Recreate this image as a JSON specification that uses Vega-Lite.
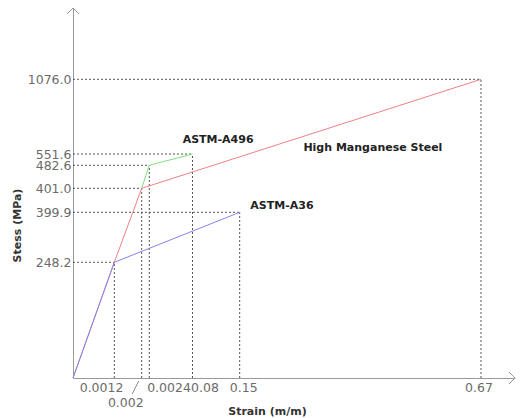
{
  "$schema": "https://vega.github.io/schema/vega-lite/v6.json",
  "autosize": "none",
  "width": 442,
  "height": 370,
  "padding": {"left": 73, "top": 8, "right": 7, "bottom": 40},
  "background": "white",
  "config": {
    "view": {"stroke": null},
    "axis": {
      "domainColor": "#999999",
      "ticks": false,
      "grid": false,
      "labelColor": "#6b6b6b",
      "labelFont": "DejaVu Sans",
      "labelFontSize": 12.5,
      "labelOverlap": false,
      "labelFlush": false,
      "labelBound": false,
      "titleFont": "DejaVu Sans",
      "titleFontSize": 11,
      "titleFontWeight": "bold",
      "titleColor": "#333333"
    }
  },
  "datasets": {
    "lines": [
      {"series": "High Manganese Steel", "x": 0, "y": 0, "order": 0},
      {"series": "High Manganese Steel", "x": 0.0012, "y": 248.2, "order": 1},
      {"series": "High Manganese Steel", "x": 0.002, "y": 401.0, "order": 2},
      {"series": "High Manganese Steel", "x": 0.67, "y": 1076.0, "order": 3},
      {"series": "ASTM-A496", "x": 0.002, "y": 401.0, "order": 0},
      {"series": "ASTM-A496", "x": 0.0024, "y": 482.6, "order": 1},
      {"series": "ASTM-A496", "x": 0.08, "y": 551.6, "order": 2},
      {"series": "ASTM-A36", "x": 0, "y": 0, "order": 0},
      {"series": "ASTM-A36", "x": 0.0012, "y": 248.2, "order": 1},
      {"series": "ASTM-A36", "x": 0.15, "y": 399.9, "order": 2}
    ],
    "guides": [
      {"x": 0.0012, "y": 248.2, "x0": 0, "y0": 0},
      {"x": 0.002, "y": 401.0, "x0": 0, "y0": 0},
      {"x": 0.0024, "y": 482.6, "x0": 0, "y0": 0},
      {"x": 0.08, "y": 551.6, "x0": 0, "y0": 0},
      {"x": 0.15, "y": 399.9, "x0": 0, "y0": 0},
      {"x": 0.67, "y": 1076.0, "x0": 0, "y0": 0}
    ],
    "ticklabels": [
      {"label": "0.0012", "x": 0.00083, "row": 1},
      {"label": "0.002", "x": 0.001536, "row": 2},
      {"label": "0.0024", "x": 0.0378, "row": 1},
      {"label": "0.08", "x": 0.0985, "row": 1},
      {"label": "0.15", "x": 0.1588, "row": 1},
      {"label": "0.67", "x": 0.6657, "row": 1}
    ],
    "notes": [
      {"label": "ASTM-A496", "x": 0.118, "y": 650},
      {"label": "High Manganese Steel", "x": 0.437, "y": 591.6},
      {"label": "ASTM-A36", "x": 0.241, "y": 400.2}
    ]
  },
  "layer": [
    {
      "data": {"name": "guides"},
      "mark": {"type": "rule", "color": "#555555", "strokeDash": [2, 2], "strokeWidth": 1},
      "encoding": {
        "x": {
          "field": "x0",
          "type": "quantitative",
          "scale": {
            "domain": [0, 0.0012, 0.002, 0.0024, 0.08, 0.15, 0.67, 0.8],
            "range": [0, 41.3, 68.7, 76.3, 119.5, 166.7, 408, 442],
            "nice": false,
            "zero": false
          },
          "axis": {
            "values": [0.0012, 0.002, 0.0024, 0.08, 0.15, 0.67],
            "labels": false,
            "title": "Strain (m/m)",
            "titleX": 194,
            "titleY": 33,
            "titleAlign": "center",
            "titleBaseline": "middle"
          }
        },
        "x2": {"field": "x"},
        "y": {
          "field": "y",
          "type": "quantitative",
          "scale": {
            "domain": [0, 248.2, 399.9, 401.0, 482.6, 551.6, 1076.0, 1300],
            "range": [370, 254.3, 204.3, 180.3, 157.3, 146, 71.3, 0],
            "nice": false,
            "zero": false
          },
          "axis": {
            "values": [248.2, 399.9, 401.0, 482.6, 551.6, 1076.0],
            "format": ".1f",
            "labelPadding": 2,
            "title": "Stess (MPa)",
            "titleX": -56,
            "titleY": 217,
            "titleAlign": "center",
            "titleBaseline": "middle"
          }
        }
      }
    },
    {
      "data": {"name": "guides"},
      "mark": {"type": "rule", "color": "#555555", "strokeDash": [2, 2], "strokeWidth": 1},
      "encoding": {
        "x": {"field": "x", "type": "quantitative"},
        "y": {"field": "y0", "type": "quantitative"},
        "y2": {"field": "y"}
      }
    },
    {
      "data": {"name": "lines"},
      "mark": {"type": "line", "strokeWidth": 1},
      "encoding": {
        "x": {"field": "x", "type": "quantitative"},
        "y": {"field": "y", "type": "quantitative"},
        "order": {"field": "order", "type": "quantitative"},
        "color": {
          "field": "series",
          "type": "nominal",
          "scale": {
            "domain": ["High Manganese Steel", "ASTM-A496", "ASTM-A36"],
            "range": ["#f07f86", "#7fe07f", "#8585ee"]
          },
          "legend": null
        }
      }
    },
    {
      "data": {"name": "notes"},
      "mark": {"type": "text", "font": "DejaVu Sans", "fontSize": 11, "fontWeight": "bold", "color": "#222222", "align": "center", "baseline": "middle"},
      "encoding": {
        "x": {"field": "x", "type": "quantitative"},
        "y": {"field": "y", "type": "quantitative"},
        "text": {"field": "label", "type": "nominal"}
      }
    },
    {
      "data": {"name": "ticklabels"},
      "transform": [{"filter": "datum.row == 1"}],
      "mark": {"type": "text", "font": "DejaVu Sans", "fontSize": 12.5, "color": "#6b6b6b", "align": "center", "baseline": "middle", "dy": 10},
      "encoding": {
        "x": {"field": "x", "type": "quantitative"},
        "y": {"datum": 0, "type": "quantitative"},
        "text": {"field": "label", "type": "nominal"}
      }
    },
    {
      "data": {"name": "ticklabels"},
      "transform": [{"filter": "datum.row == 2"}],
      "mark": {"type": "text", "font": "DejaVu Sans", "fontSize": 12.5, "color": "#6b6b6b", "align": "center", "baseline": "middle", "dy": 25},
      "encoding": {
        "x": {"field": "x", "type": "quantitative"},
        "y": {"datum": 0, "type": "quantitative"},
        "text": {"field": "label", "type": "nominal"}
      }
    },
    {
      "data": {"values": [{"v": 0.002, "z": 0}]},
      "mark": {"type": "rule", "color": "#888888", "strokeWidth": 1, "xOffset": -3, "yOffset": 3, "x2Offset": -9.5, "y2Offset": 16},
      "encoding": {
        "x": {"field": "v", "type": "quantitative"},
        "x2": {"field": "v"},
        "y": {"field": "z", "type": "quantitative"},
        "y2": {"field": "z"}
      }
    },
    {
      "data": {"values": [{"ax": 0.8, "ay": 0}]},
      "mark": {"type": "point", "shape": "M-1,-1L0,0L-1,1", "size": 144, "filled": false, "stroke": "#999999", "strokeWidth": 1, "opacity": 1},
      "encoding": {
        "x": {"field": "ax", "type": "quantitative"},
        "y": {"field": "ay", "type": "quantitative"}
      }
    },
    {
      "data": {"values": [{"ax": 0, "ay": 1300}]},
      "mark": {"type": "point", "shape": "M-1,-1L0,0L-1,1", "size": 144, "filled": false, "stroke": "#999999", "strokeWidth": 1, "opacity": 1, "angle": -90},
      "encoding": {
        "x": {"field": "ax", "type": "quantitative"},
        "y": {"field": "ay", "type": "quantitative"}
      }
    }
  ]
}
